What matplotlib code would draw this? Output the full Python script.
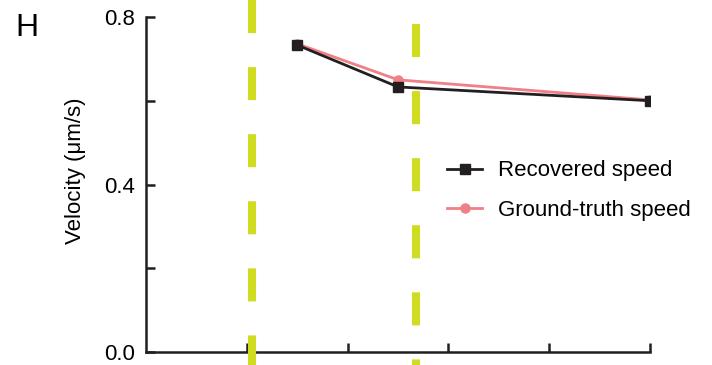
import matplotlib
matplotlib.use("Agg")
import matplotlib.pyplot as plt
from matplotlib import transforms

plt.rcParams['font.family'] = ['Liberation Sans', 'DejaVu Sans']
plt.rcParams['lines.scale_dashes'] = False

# speeds at each sample position
x_pos = [1.5, 2.5, 5.0]
recovered = [0.733, 0.633, 0.600]
ground_truth = [0.736, 0.650, 0.602]

# event markers (vertical dashed lines)
event_x = [1.05, 2.68]
event_top = [1.0, 0.934]  # figure fraction where each dashed line starts

y_ticks = [0.0, 0.2, 0.4, 0.6, 0.8]
y_ticklabels = ['0.0', '', '0.4', '', '0.8']
x_ticks = [1, 2, 3, 4, 5]

black = '#231f20'
pink = '#f07f86'
lime = '#cfdc22'

fig = plt.figure(figsize=(7.12, 3.65), dpi=100)
ax = fig.add_axes([0.2051, 0.0356, 0.7079, 0.9178])

gt_line, = ax.plot(x_pos, ground_truth, color=pink, lw=2.0, marker='o',
                   ms=6.5, label='Ground-truth speed', zorder=3)
rec_line, = ax.plot(x_pos, recovered, color=black, lw=2.0, marker='s',
                    ms=7.5, label='Recovered speed', zorder=4)

trans = transforms.blended_transform_factory(ax.transData, fig.transFigure)
for ex, top in zip(event_x, event_top):
    ax.plot([ex, ex], [top, 0.0], transform=trans, color=lime, lw=5.8,
            dashes=(23.8, 24.5), solid_capstyle='butt', clip_on=False,
            zorder=5)

ax.set_xlim(0, 5)
ax.set_ylim(0, 0.8)
ax.set_yticks(y_ticks)
ax.set_yticklabels(y_ticklabels)
ax.set_xticks(x_ticks)
ax.set_xticklabels([])

for side in ['top', 'right']:
    ax.spines[side].set_visible(False)
for side in ['left', 'bottom']:
    ax.spines[side].set_linewidth(1.8)
    ax.spines[side].set_color(black)

ax.tick_params(axis='both', direction='in', length=6.5, width=1.8,
               color=black, labelsize=16, pad=8)
ax.set_ylabel('Velocity (μm/s)', fontsize=16)
ax.yaxis.set_label_coords(-0.119, 0.54)

fig.text(0.021, 0.965, 'H', fontsize=23, va='top', ha='left')

ax.legend(handles=[rec_line, gt_line], loc='upper left',
          bbox_to_anchor=(0.615, 0.585), bbox_transform=fig.transFigure,
          frameon=False, fontsize=16, handlelength=1.6, handletextpad=0.7,
          labelspacing=0.85, borderaxespad=0)

fig.savefig('out.png', dpi=100)
